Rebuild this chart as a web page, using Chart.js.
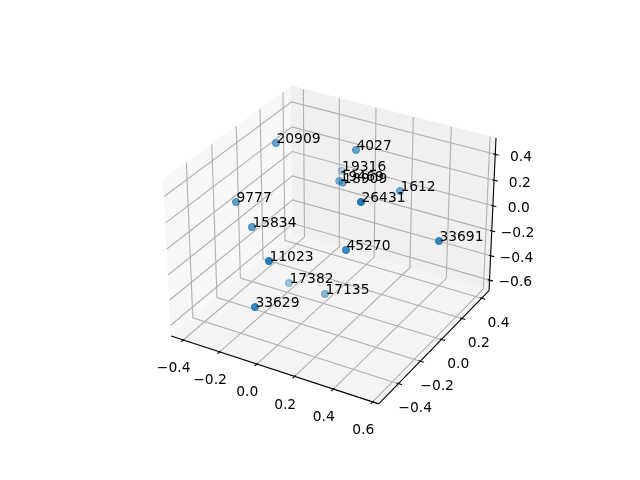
<!DOCTYPE html>
<html>
<head>
<meta charset="utf-8">
<style>html,body{margin:0;padding:0;background:#fff}canvas{display:block}</style>
<script src="https://cdn.jsdelivr.net/npm/chart.js@4/dist/chart.umd.min.js"></script>
</head>
<body>
<canvas id="chart" width="640" height="480"></canvas>
<script>
// scatter values
const labels = ['20909','4027','19316','19469','18909','26431','1612','33691','45270','9777','15834','11023','17382','17135','33629'];
const xValues = [-0.2547,0.0729,-0.1619,-0.0145,0.0294,0.3488,0.2694,0.6112,0.2604,-0.3274,-0.2105,0.0462,-0.177,0.0304,-0.0102];
const yValues = [0.0056,0.1689,0.4358,0.167,0.1242,-0.2567,0.2356,-0.0176,-0.2337,-0.2233,-0.2725,-0.5292,-0.0211,-0.036,-0.5625];
const zValues = [0.4734,0.4322,-0.0092,0.1596,0.1947,0.4552,0.1456,0.0916,0.0402,0.1547,0.0466,0.0958,-0.5827,-0.5669,-0.2538];

const xTicks = [-0.4,-0.2,0,0.2,0.4,0.6];
const yTicks = [-0.4,-0.2,0,0.2,0.4];
const zTicks = [-0.6,-0.4,-0.2,0,0.2,0.4];
const xLim = [-0.4667,0.6303];
const yLim = [-0.574,0.476];
const zLim = [-0.6875,0.524];

// same camera as a default mplot3d axes: elev 30, azim -60, dist 10
const box = [1.1905,1.1905,0.8929];
const u = [0.86603,0.5,0];
const v = [-0.25,0.43301,0.86603];
const w = [0.43301,-0.75,0.5];
const dot = (a,b) => a[0]*b[0]+a[1]*b[1]+a[2]*b[2];

function toBox(x,y,z) {
  return [
    ((x-xLim[0])/(xLim[1]-xLim[0])-0.5)*box[0],
    ((y-yLim[0])/(yLim[1]-yLim[0])-0.5)*box[1],
    ((z-zLim[0])/(zLim[1]-zLim[0])-0.5)*box[2]
  ];
}
function depth(x,y,z) { return dot(toBox(x,y,z),w); }
function project(x,y,z) {
  const p = toBox(x,y,z);
  const d = 10-dot(p,w);
  return {x: dot(p,u)/d, y: dot(p,v)/d};
}
const line3d = pts => pts.map(p => project(p[0],p[1],p[2]));

const [x0,x1] = xLim, [y0,y1] = yLim, [z0,z1] = zLim;
const tickStep = [(x1-x0)/12,(y1-y0)/12];

function lineSet(pts,color,width,order) {
  return {type:'line',data:line3d(pts),borderColor:color,borderWidth:width,pointRadius:0,tension:0,fill:false,order:order,clip:false};
}

const panes = [
  {color:'rgb(247,247,247)',pts:[[x0,y0,z0],[x0,y1,z0],[x0,y1,z1],[x0,y0,z1]]},
  {color:'rgb(240,240,240)',pts:[[x0,y1,z0],[x1,y1,z0],[x1,y1,z1],[x0,y1,z1]]},
  {color:'rgb(244,244,244)',pts:[[x0,y0,z0],[x1,y0,z0],[x1,y1,z0],[x0,y1,z0]]}
];

const datasets = [];
const gridColor = 'rgb(176,176,176)';
xTicks.forEach(t => datasets.push(lineSet([[t,y0,z0],[t,y1,z0],[t,y1,z1]],gridColor,1.1,4)));
yTicks.forEach(t => datasets.push(lineSet([[x1,t,z0],[x0,t,z0],[x0,t,z1]],gridColor,1.1,4)));
zTicks.forEach(t => datasets.push(lineSet([[x0,y0,t],[x0,y1,t],[x1,y1,t]],gridColor,1.1,4)));

// axis lines and tick marks
datasets.push(lineSet([[x0,y0,z0],[x1,y0,z0]],'#000',1.1,2));
datasets.push(lineSet([[x1,y0,z0],[x1,y1,z0]],'#000',1.1,2));
datasets.push(lineSet([[x1,y1,z0],[x1,y1,z1]],'#000',1.1,2));
xTicks.forEach(t => datasets.push(lineSet([[t,y0+0.1*tickStep[1],z0],[t,y0-0.2*tickStep[1],z0]],'#000',1.1,2)));
yTicks.forEach(t => datasets.push(lineSet([[x1-0.1*tickStep[0],t,z0],[x1+0.2*tickStep[0],t,z0]],'#000',1.1,2)));
zTicks.forEach(t => datasets.push(lineSet([[x1-0.1*tickStep[0],y1,t],[x1+0.2*tickStep[0],y1,t]],'#000',1.1,2)));

// far points first, paler with distance
const depths = labels.map((_,i) => depth(xValues[i],yValues[i],zValues[i]));
const dMin = Math.min(...depths), dMax = Math.max(...depths);
const order = labels.map((_,i) => i).sort((a,b) => depths[a]-depths[b]);
const alphaOf = i => 1-0.7*(dMax-depths[i])/(dMax-dMin);
datasets.push({
  type:'scatter',
  data:order.map(i => project(xValues[i],yValues[i],zValues[i])),
  pointRadius:3.6,
  pointBorderWidth:1,
  pointBackgroundColor:order.map(i => 'rgba(31,119,180,'+alphaOf(i).toFixed(3)+')'),
  pointBorderColor:order.map(i => 'rgba(31,119,180,'+alphaOf(i).toFixed(3)+')'),
  showLine:false,
  order:0,
  clip:false
});

const fmt = t => (t<0?'\u2212':'')+Math.abs(t).toFixed(1);

const panePlugin = {
  id:'panes',
  beforeDatasetsDraw(chart) {
    const c = chart.ctx, sx = chart.scales.x, sy = chart.scales.y;
    c.save();
    panes.forEach(pane => {
      c.beginPath();
      line3d(pane.pts).forEach((p,i) => {
        const px = sx.getPixelForValue(p.x), py = sy.getPixelForValue(p.y);
        if (i === 0) c.moveTo(px,py); else c.lineTo(px,py);
      });
      c.closePath();
      c.fillStyle = pane.color;
      c.strokeStyle = pane.color;
      c.lineWidth = 1;
      c.fill();
      c.stroke();
    });
    c.restore();
  }
};

const textPlugin = {
  id:'texts',
  afterDatasetsDraw(chart) {
    const c = chart.ctx, sx = chart.scales.x, sy = chart.scales.y;
    const put = (p,dx,dy,s) => c.fillText(s,sx.getPixelForValue(p.x)+dx,sy.getPixelForValue(p.y)+dy);
    c.save();
    c.font = '13.89px "DejaVu Sans"';
    c.fillStyle = '#000';
    c.textAlign = 'center';
    c.textBaseline = 'middle';
    xTicks.forEach(t => put(project(t,y0,z0),-9.5,28.7,fmt(t)));
    yTicks.forEach(t => put(project(x1,t,z0),16.8,25.1,fmt(t)));
    zTicks.forEach(t => put(project(x1,y1,t),25.8,2.7,fmt(t)));
    c.textAlign = 'left';
    c.textBaseline = 'alphabetic';
    labels.forEach((s,i) => put(project(xValues[i],yValues[i],zValues[i]),0.4,0.4,s));
    c.restore();
  }
};

new Chart(document.getElementById('chart').getContext('2d'), {
  type:'scatter',
  data:{datasets:datasets},
  options:{
    responsive:false,
    animation:false,
    layout:{padding:{left:143.2,right:127.2,top:57.6,bottom:52.8}},
    plugins:{legend:{display:false},tooltip:{enabled:false}},
    scales:{
      x:{type:'linear',min:-0.095,max:0.09,display:false},
      y:{type:'linear',min:-0.095,max:0.09,display:false}
    }
  },
  plugins:[panePlugin,textPlugin]
});
</script>
</body>
</html>
